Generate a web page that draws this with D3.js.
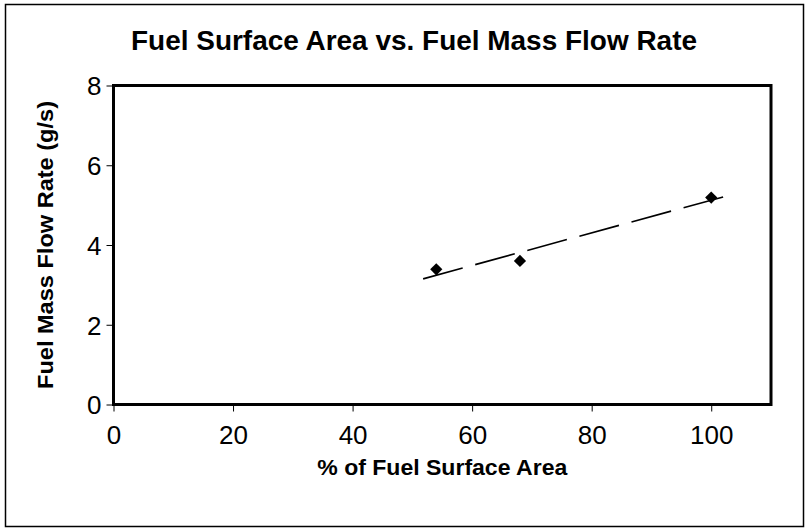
<!DOCTYPE html>
<html>
<head>
<meta charset="utf-8">
<script src="https://cdn.jsdelivr.net/npm/d3@7"></script>
<style>
  html, body { margin: 0; padding: 0; background: #fff; }
  svg { display: block; }
  text { font-family: "Liberation Sans", Arial, Helvetica, sans-serif; fill: #000; }
</style>
</head>
<body>
<svg id="chart" width="809" height="531"></svg>
<script>
// ---- Data ----
const surfaceArea = [54, 68, 100];          // % of fuel surface area
const massFlowRate = [3.39, 3.60, 5.19];    // g/s
const xTicks = [0, 20, 40, 60, 80, 100];
const yTicks = [0, 2, 4, 6, 8];
const trendRange = [51.8, 102.7];           // extent of the linear trendline
const titleText = "Fuel Surface Area vs. Fuel Mass Flow Rate";
const xTitle = "% of Fuel Surface Area";
const yTitle = "Fuel Mass Flow Rate (g/s)";

// ---- Layout ----
const W = 809, H = 531;
const plot = { left: 113.5, right: 771, top: 85.5, bottom: 404.5 };

const svg = d3.select("#chart");

// outer frame
svg.append("rect")
  .attr("x", 5.5).attr("y", 4.5).attr("width", 798).attr("height", 522)
  .attr("fill", "#fff").attr("stroke", "#000").attr("stroke-width", 1.5);

const x = d3.scaleLinear().domain([0, 110]).range([plot.left, plot.right]);
const y = d3.scaleLinear().domain([0, 8]).range([plot.bottom, plot.top]);

// plot area border
svg.append("rect")
  .attr("x", plot.left).attr("y", plot.top)
  .attr("width", plot.right - plot.left).attr("height", plot.bottom - plot.top)
  .attr("fill", "none").attr("stroke", "#000").attr("stroke-width", 3);

// axes
const xAxis = d3.axisBottom(x).tickValues(xTicks).tickSize(7).tickSizeOuter(0).tickPadding(14);
const yAxis = d3.axisLeft(y).tickValues(yTicks).tickSize(7).tickSizeOuter(0).tickPadding(5);

const gx = svg.append("g").attr("transform", `translate(0,${plot.bottom})`).call(xAxis);
const gy = svg.append("g").attr("transform", `translate(${plot.left},0)`).call(yAxis);
[gx, gy].forEach(g => {
  g.select(".domain").remove();
  g.selectAll(".tick line").attr("stroke", "#000").attr("stroke-width", 1);
  g.selectAll(".tick text")
    .style("font-family", "'Liberation Sans', Arial, sans-serif")
    .style("font-size", "26px").attr("fill", "#000");
});
gx.selectAll(".tick text").attr("dy", "0.71em");
gy.selectAll(".tick text").attr("dy", "0.36em");

// linear regression trendline
const n = surfaceArea.length;
const mx = d3.mean(surfaceArea), my = d3.mean(massFlowRate);
let sxy = 0, sxx = 0;
for (let i = 0; i < n; i++) {
  sxy += (surfaceArea[i] - mx) * (massFlowRate[i] - my);
  sxx += (surfaceArea[i] - mx) ** 2;
}
const slope = sxy / sxx, intercept = my - slope * mx;
svg.append("line")
  .attr("x1", x(trendRange[0])).attr("y1", y(intercept + slope * trendRange[0]))
  .attr("x2", x(trendRange[1])).attr("y2", y(intercept + slope * trendRange[1]))
  .attr("stroke", "#000").attr("stroke-width", 1.6)
  .attr("stroke-dasharray", "41,13");

// diamond markers
const diamond = d3.symbol().type(d3.symbolDiamond2).size(95);
svg.append("g").selectAll("path")
  .data(surfaceArea.map((v, i) => [v, massFlowRate[i]]))
  .join("path")
  .attr("d", diamond)
  .attr("transform", d => `translate(${x(d[0])},${y(d[1])})`)
  .attr("fill", "#000");

// titles
svg.append("text")
  .attr("x", 414).attr("y", 50)
  .attr("text-anchor", "middle")
  .attr("textLength", 566).attr("lengthAdjust", "spacingAndGlyphs")
  .style("font-weight", "bold").style("font-size", "27px")
  .text(titleText);

svg.append("text")
  .attr("x", (plot.left + plot.right) / 2).attr("y", 475)
  .attr("text-anchor", "middle")
  .attr("textLength", 250).attr("lengthAdjust", "spacingAndGlyphs")
  .style("font-weight", "bold").style("font-size", "22px")
  .text(xTitle);

svg.append("text")
  .attr("transform", `translate(53,${(plot.top + plot.bottom) / 2}) rotate(-90)`)
  .attr("text-anchor", "middle")
  .attr("textLength", 288).attr("lengthAdjust", "spacingAndGlyphs")
  .style("font-weight", "bold").style("font-size", "22px")
  .text(yTitle);
</script>
</body>
</html>
